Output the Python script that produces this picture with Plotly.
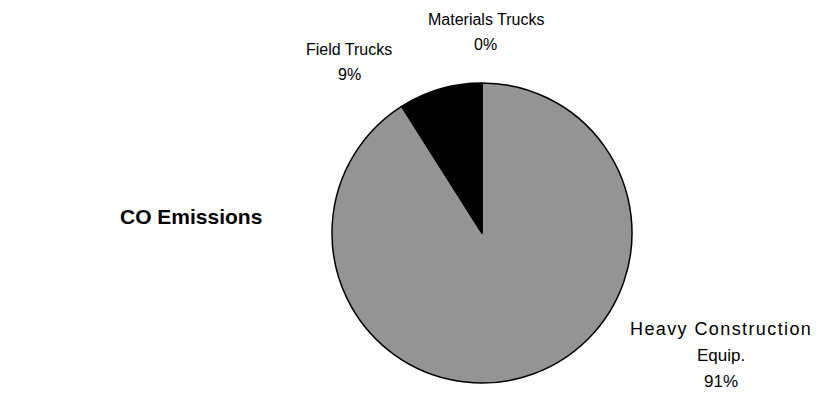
import plotly.graph_objects as go

# ---- data ----
categories = ["Heavy Construction Equip.", "Field Trucks", "Materials Trucks"]
label_lines = [["Heavy Construction", "Equip."], ["Field Trucks"], ["Materials Trucks"]]
values = [91, 9, 0]
title_text = "CO Emissions"

# ---- styles ----
colors = ["#949494", "#000000", "#ffffff"]
W, H = 820, 402
# label block: x center, y of first line, font size, line gap (px)
label_style = [(713, 321, 17, 26), (341, 41, 16, 25), (478, 12, 16, 25)]
# wider first line of the first block (size, letter spacing px)
first_line_size = 18
first_line_spacing = 1.4

cx, cy, r = 474, 225, 150

fig = go.Figure(go.Pie(
    labels=categories,
    values=values,
    sort=False,
    direction="clockwise",
    rotation=0,
    textinfo="none",
    hoverinfo="label+percent",
    marker=dict(colors=colors, line=dict(color="#000000", width=1.5)),
    domain=dict(x=[(cx - r) / W, (cx + r) / W], y=[1 - (cy + r) / H, 1 - (cy - r) / H]),
    showlegend=False,
))

annotations = []
for k, (lines, v, (px, py, fs, gap)) in enumerate(zip(label_lines, values, label_style)):
    all_lines = lines + [f"{v}%"]
    for i, t in enumerate(all_lines):
        txt, size = t, fs
        if k == 0 and i == 0:
            txt = f'<span style="letter-spacing:{first_line_spacing}px">{t}</span>'
            size = first_line_size
        annotations.append(dict(
            text=txt, x=px / W, y=1 - (py + i * gap) / H,
            xref="paper", yref="paper", xanchor="center", yanchor="middle",
            showarrow=False,
            font=dict(family="Liberation Sans, Arial, sans-serif", size=size, color="#000000"),
        ))
annotations.append(dict(
    text=f"<b>{title_text}</b>", x=183 / W, y=1 - 208 / H,
    xref="paper", yref="paper", xanchor="center", yanchor="middle",
    showarrow=False,
    font=dict(family="Liberation Sans, Arial, sans-serif", size=21, color="#000000"),
))

fig.update_layout(
    width=W, height=H,
    margin=dict(l=0, r=0, t=0, b=0),
    paper_bgcolor="#ffffff", plot_bgcolor="#ffffff",
    annotations=annotations,
)
fig.write_html("out.html")
